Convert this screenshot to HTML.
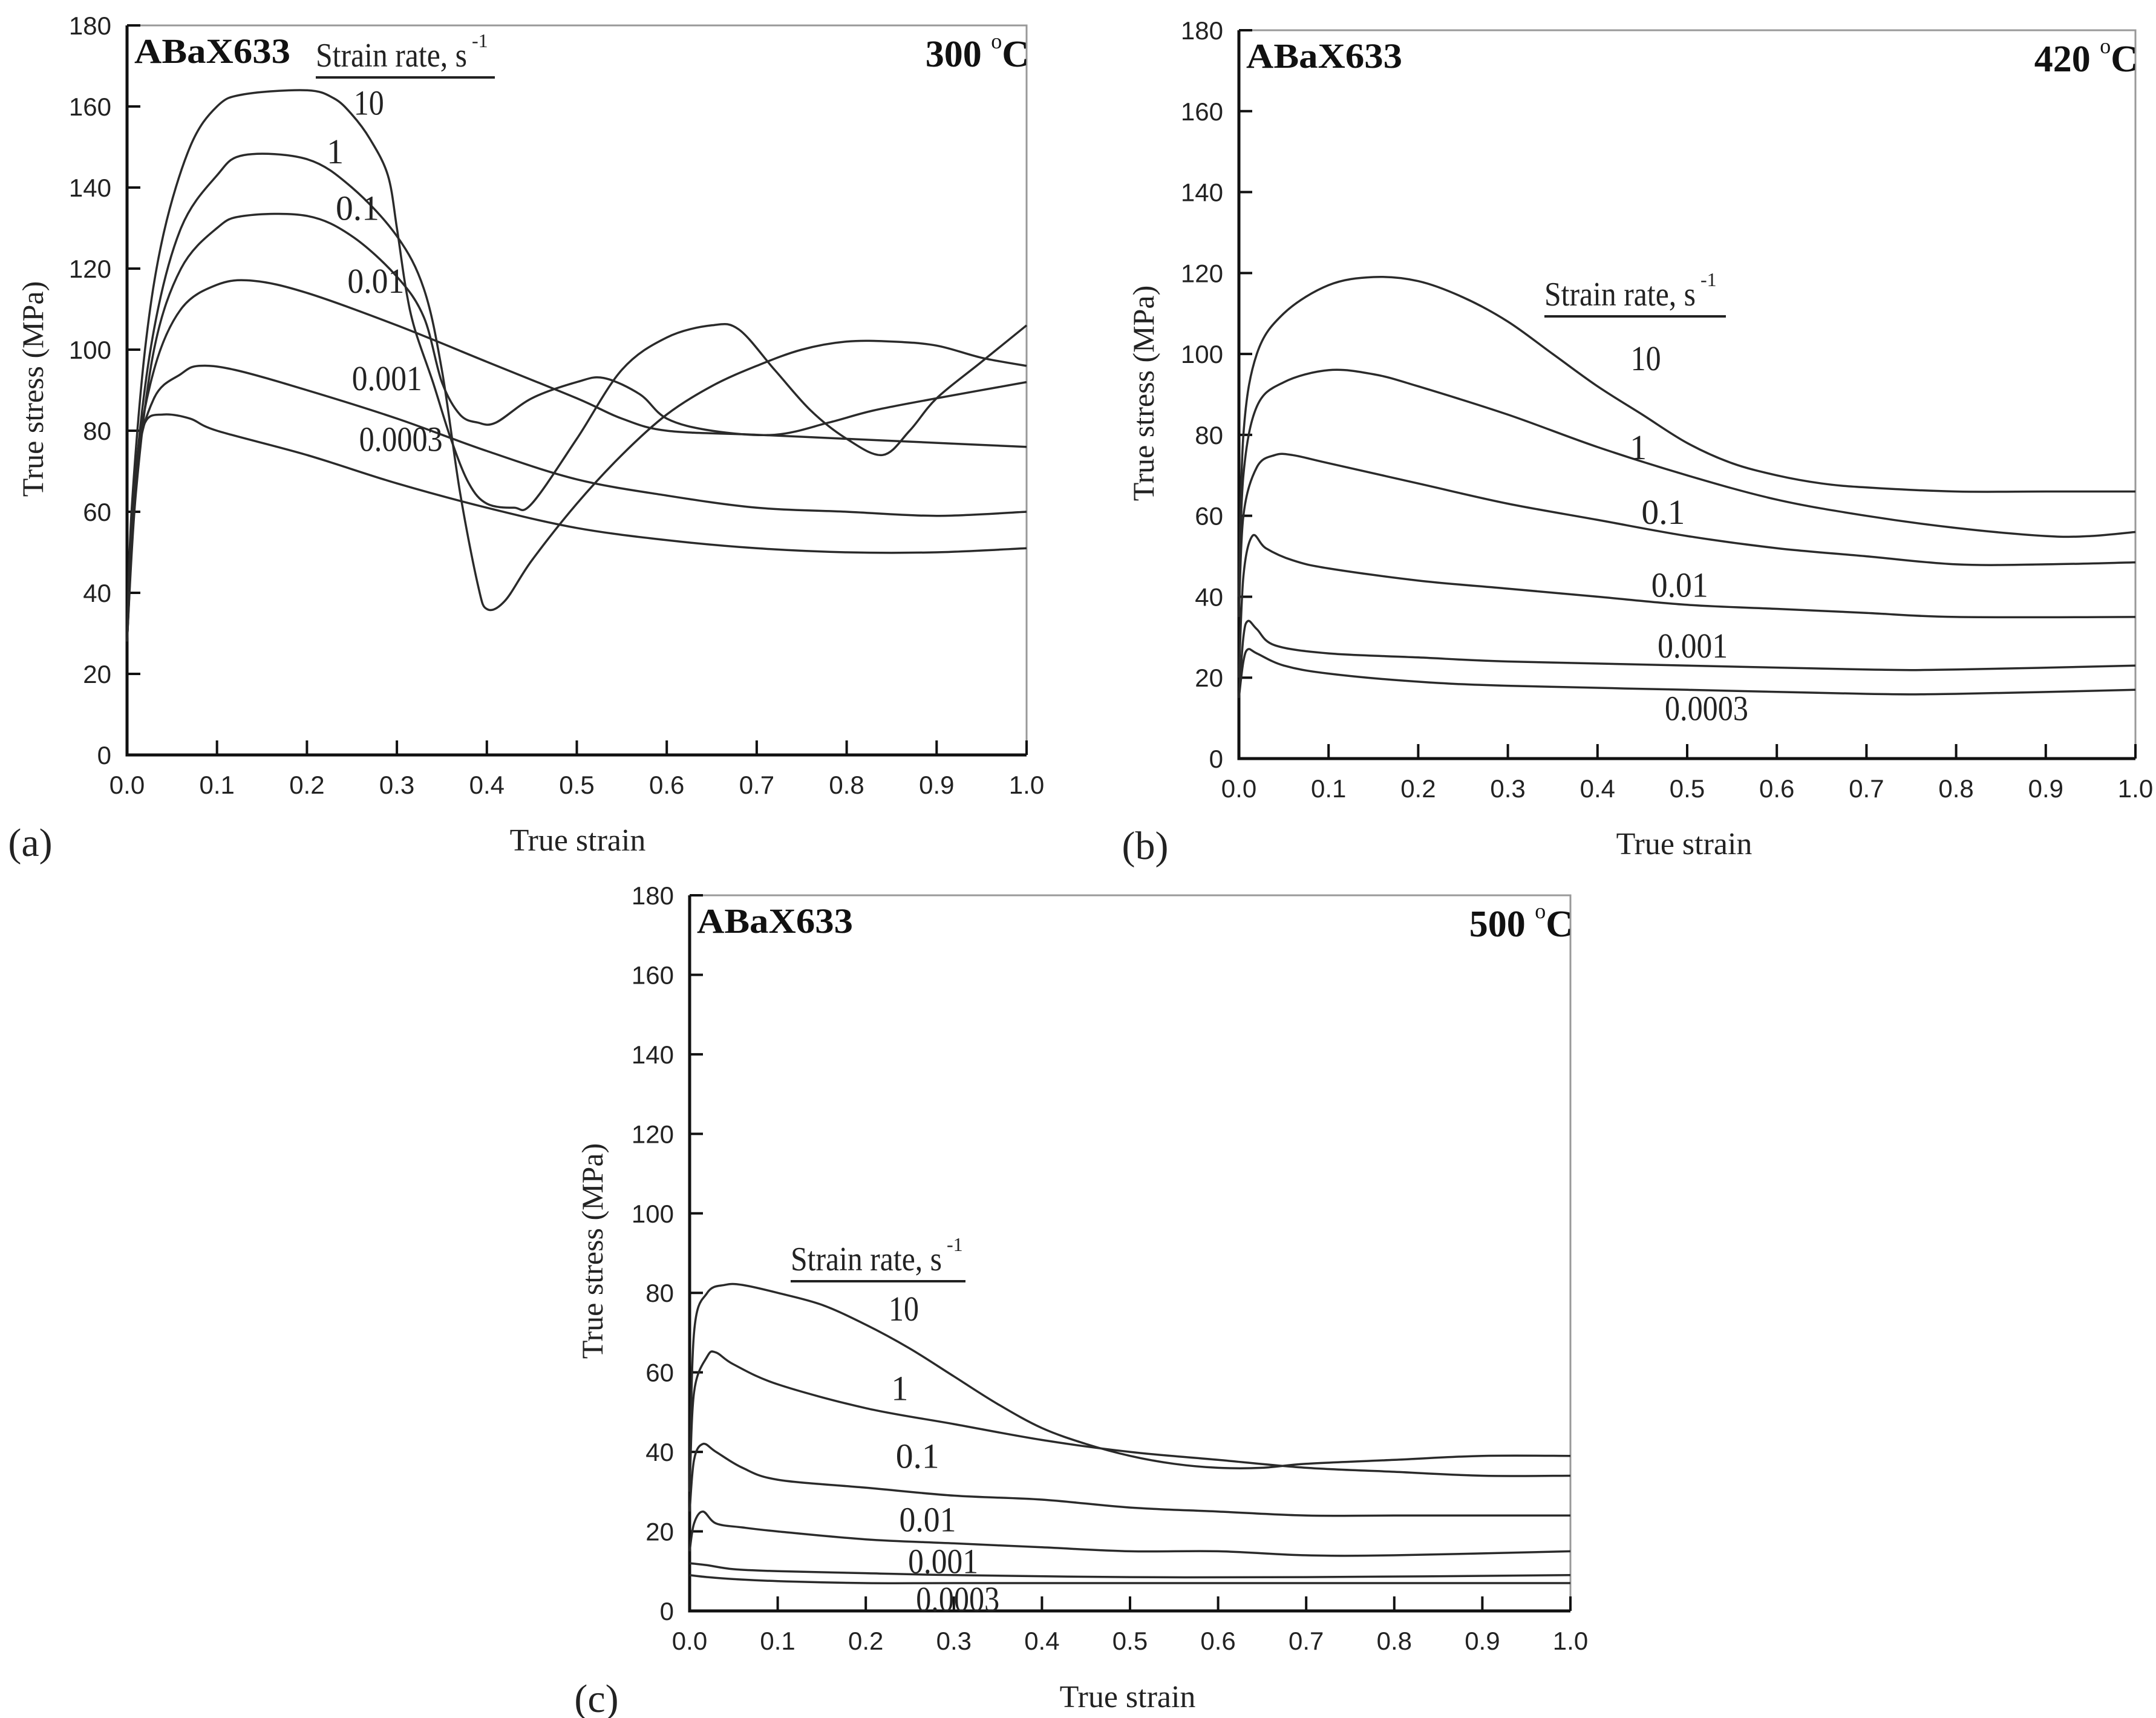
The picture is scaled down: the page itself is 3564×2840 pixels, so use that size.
<!DOCTYPE html>
<html><head><meta charset="utf-8"><style>
html,body{margin:0;padding:0;background:#fff;}
svg{display:block;}
</style></head><body>
<svg id="fig" xmlns="http://www.w3.org/2000/svg" width="3564" height="2840" viewBox="0 0 3564 2840"></svg>
<script>
// ---- Panel (a) 300 C data ----
const seriesA_10 = [[0,28],[0.005,60],[0.02,100],[0.04,128],[0.07,150],[0.1,160],[0.13,163],[0.2,164],[0.23,162],[0.25,158],[0.27,152],[0.29,143],[0.3,130],[0.31,115],[0.32,105],[0.34,92],[0.36,78],[0.38,67],[0.4,62],[0.43,61],[0.45,62],[0.5,78],[0.55,95],[0.6,103],[0.65,106],[0.68,105],[0.72,95],[0.76,85],[0.8,78],[0.84,74],[0.87,80],[0.9,88],[0.95,97],[1.0,106]];
const seriesA_1 = [[0,28],[0.01,70],[0.03,105],[0.06,130],[0.1,143],[0.13,148],[0.2,147],[0.25,140],[0.3,128],[0.33,115],[0.35,95],[0.37,65],[0.39,42],[0.4,36],[0.42,38],[0.45,48],[0.5,62],[0.55,74],[0.6,84],[0.65,91],[0.7,96],[0.75,100],[0.8,102],[0.85,102],[0.9,101],[0.95,98],[1.0,96]];
const seriesA_01 = [[0,28],[0.01,65],[0.03,100],[0.06,120],[0.1,130],[0.13,133],[0.2,133],[0.25,128],[0.3,118],[0.33,108],[0.35,92],[0.37,84],[0.39,82],[0.41,82],[0.45,88],[0.5,92],[0.53,93],[0.57,89],[0.6,83],[0.65,80],[0.72,79],[0.78,82],[0.83,85],[0.9,88],[1.0,92]];
const seriesA_001 = [[0,28],[0.01,70],[0.03,95],[0.06,110],[0.1,116],[0.14,117],[0.2,114],[0.3,106],[0.4,97],[0.5,88],[0.55,83],[0.6,80],[0.7,79],[0.8,78],[0.9,77],[1.0,76]];
const seriesA_0001 = [[0,28],[0.01,70],[0.03,88],[0.06,94],[0.08,96],[0.12,95],[0.2,90],[0.3,83],[0.4,75],[0.5,68],[0.6,64],[0.7,61],[0.8,60],[0.9,59],[1.0,60]];
const seriesA_00003 = [[0,28],[0.01,70],[0.02,82],[0.04,84],[0.07,83],[0.1,80],[0.2,74],[0.3,67],[0.4,61],[0.5,56],[0.6,53],[0.7,51],[0.8,50],[0.9,50],[1.0,51]];
// ---- Panel (b) 420 C data ----
const seriesB_10 = [[0,40],[0.005,80],[0.02,100],[0.05,110],[0.1,117],[0.15,119],[0.2,118],[0.25,114],[0.3,108],[0.35,100],[0.4,92],[0.45,85],[0.5,78],[0.55,73],[0.6,70],[0.65,68],[0.7,67],[0.8,66],[0.9,66],[1.0,66]];
const seriesB_1 = [[0,40],[0.005,70],[0.02,87],[0.05,93],[0.1,96],[0.15,95],[0.2,92],[0.3,85],[0.4,77],[0.5,70],[0.6,64],[0.7,60],[0.8,57],[0.9,55],[0.95,55],[1.0,56]];
const seriesB_01 = [[0,35],[0.005,60],[0.02,72],[0.04,75],[0.06,75],[0.1,73],[0.2,68],[0.3,63],[0.4,59],[0.5,55],[0.6,52],[0.7,50],[0.8,48],[0.9,48],[1.0,48.5]];
const seriesB_001 = [[0,20],[0.005,45],[0.015,55],[0.03,52],[0.06,49],[0.1,47],[0.2,44],[0.3,42],[0.4,40],[0.5,38],[0.6,37],[0.7,36],[0.8,35],[1.0,35]];
const seriesB_0001 = [[0,15],[0.005,30],[0.01,34],[0.02,32],[0.04,28],[0.1,26],[0.2,25],[0.3,24],[0.5,23],[0.7,22],[0.8,22],[1.0,23]];
const seriesB_00003 = [[0,15],[0.005,24],[0.01,27],[0.02,26],[0.05,23],[0.1,21],[0.2,19],[0.3,18],[0.5,17],[0.7,16],[0.8,16],[1.0,17]];
// ---- Panel (c) 500 C data ----
const seriesC_10 = [[0,30],[0.005,70],[0.02,80],[0.04,82],[0.06,82],[0.1,80],[0.15,77],[0.2,72],[0.25,66],[0.3,59],[0.35,52],[0.4,46],[0.45,42],[0.5,39],[0.55,37],[0.6,36],[0.65,36],[0.7,37],[0.8,38],[0.9,39],[1.0,39]];
const seriesC_1 = [[0,30],[0.005,55],[0.02,64],[0.03,65],[0.05,62],[0.1,57],[0.2,51],[0.3,47],[0.4,43],[0.5,40],[0.6,38],[0.7,36],[0.8,35],[0.9,34],[1.0,34]];
const seriesC_01 = [[0,25],[0.005,38],[0.015,42],[0.03,40],[0.06,36],[0.1,33],[0.2,31],[0.3,29],[0.4,28],[0.5,26],[0.6,25],[0.7,24],[0.8,24],[1.0,24]];
const seriesC_001 = [[0,15],[0.005,22],[0.015,25],[0.03,22],[0.06,21],[0.1,20],[0.2,18],[0.3,17],[0.4,16],[0.5,15],[0.6,15],[0.7,14],[0.8,14],[1.0,15]];
const seriesC_0001 = [[0,12],[0.02,11.5],[0.05,10.5],[0.1,10],[0.2,9.5],[0.3,9],[0.5,8.5],[0.7,8.5],[1.0,9]];
const seriesC_00003 = [[0,9],[0.02,8.5],[0.05,8],[0.1,7.5],[0.2,7],[0.3,7],[0.5,7],[0.7,7],[1.0,7]];
// ---- shared labels ----
const rateLabels = ["10","1","0.1","0.01","0.001","0.0003"];
const xTicks = [0,0.1,0.2,0.3,0.4,0.5,0.6,0.7,0.8,0.9,1.0];
const yTicks = [0,20,40,60,80,100,120,140,160,180];
// label anchor points (data coords)
const labelPosA = [[0.252,158],[0.222,146],[0.232,132],[0.245,114],[0.25,90],[0.258,75]];
const labelPosB = [[0.437,96],[0.436,74],[0.449,58],[0.46,40],[0.467,25],[0.475,9.5]];
const labelPosC = [[0.226,73],[0.229,53],[0.234,36],[0.238,20],[0.248,9.5],[0.257,0]];

const NS = "http://www.w3.org/2000/svg";
const svg = document.getElementById('fig');
function mk(tag, attrs, parent){ const e=document.createElementNS(NS,tag); for(const k in attrs) e.setAttribute(k,attrs[k]); (parent||svg).appendChild(e); return e; }
function smoothPath(pts){
  let d='M'+pts[0][0].toFixed(1)+','+pts[0][1].toFixed(1);
  for(let i=0;i<pts.length-1;i++){
    const p0=pts[Math.max(0,i-1)], p1=pts[i], p2=pts[i+1], p3=pts[Math.min(pts.length-1,i+2)];
    const t=1/6;
    const c1=[p1[0]+(p2[0]-p0[0])*t, p1[1]+(p2[1]-p0[1])*t];
    const c2=[p2[0]-(p3[0]-p1[0])*t, p2[1]-(p3[1]-p1[1])*t];
    d+=` C${c1[0].toFixed(1)},${c1[1].toFixed(1)} ${c2[0].toFixed(1)},${c2[1].toFixed(1)} ${p2[0].toFixed(1)},${p2[1].toFixed(1)}`;
  }
  return d;
}

const panels = [
 {id:'a', L:210, R:1697, T:42, B:1248, series:[seriesA_10,seriesA_1,seriesA_01,seriesA_001,seriesA_0001,seriesA_00003], labels:labelPosA, temp:"300", legend:[522,110,818], yTitle:[57,643], xTitle:[955,1392], tag:[50,1395]},
 {id:'b', L:2048, R:3530, T:50, B:1254, series:[seriesB_10,seriesB_1,seriesB_01,seriesB_001,seriesB_0001,seriesB_00003], labels:labelPosB, temp:"420", legend:[2553,505,2853], yTitle:[1893,650], xTitle:[2784,1398], tag:[1893,1400]},
 {id:'c', L:1140, R:2596, T:1480, B:2663, series:[seriesC_10,seriesC_1,seriesC_01,seriesC_001,seriesC_0001,seriesC_00003], labels:labelPosC, temp:"500", legend:[1307,2100,1596], yTitle:[982,2068], xTitle:[1864,2808], tag:[986,2810]}
];

panels.forEach(p=>{
  const g = mk('g',{});
  
  
  const sx = v => p.L + v*(p.R-p.L);
  const sy = v => p.B - v/180*(p.B-p.T);
  const fr = mk('path',{d:`M${p.L},${p.T} H${p.R} V${p.B}`,fill:'none',stroke:'#999','stroke-width':3},g);
  
  
  const ax = mk('path',{d:`M${p.L},${p.T} V${p.B} H${p.R}`,fill:'none',stroke:'#111','stroke-width':5},g);
  
  
  yTicks.forEach(t=>{
    const y=sy(t);
    if(t>0){ const tk=mk('line',{x1:p.L,x2:p.L+22,y1:y,y2:y,stroke:'#111','stroke-width':4},g);
      
       }
    const tl=mk('text',{x:p.L-26,y:y+15,'text-anchor':'end','font-family':'Liberation Sans, sans-serif','font-size':42,fill:'#222'},g);
    tl.textContent=String(t);
    
    
  });
  xTicks.forEach(t=>{
    const x=sx(t);
    if(t>0){ const tk=mk('line',{x1:x,x2:x,y1:p.B,y2:p.B-24,stroke:'#111','stroke-width':4},g);
      
       }
    const tl=mk('text',{x:x,y:p.B+64,'text-anchor':'middle','font-family':'Liberation Sans, sans-serif','font-size':42,fill:'#222'},g);
    tl.textContent=t.toFixed(1);
    
    
  });
  p.series.forEach((s,i)=>{
    const pts = s.map(pt=>[sx(pt[0]), sy(pt[1])]);
    const c = mk('path',{d:smoothPath(pts),fill:'none',stroke:'#2a2a2a','stroke-width':3.5,'stroke-linejoin':'round'},g);
    
    
    const lp = p.labels[i];
    const t = mk('text',{x:sx(lp[0]),y:sy(lp[1]),'font-family':'Liberation Serif, serif','font-size':58,fill:'#222',textLength:rateLabels[i].length*22+6,lengthAdjust:'spacingAndGlyphs'},g);
    t.textContent=rateLabels[i];
    
    
  });
  const lg = mk('text',{x:p.legend[0],y:p.legend[1],'font-family':'Liberation Serif, serif','font-size':56,fill:'#222',textLength:250,lengthAdjust:'spacingAndGlyphs'},g);
  lg.textContent='Strain rate, s';
  
  
  const sup = mk('text',{x:p.legend[0]+258,y:p.legend[1]-32,'font-family':'Liberation Serif, serif','font-size':32,fill:'#222'},g);
  sup.textContent='-1';
  
  
  const ul = mk('line',{x1:p.legend[0],x2:p.legend[2],y1:p.legend[1]+18,y2:p.legend[1]+18,stroke:'#222','stroke-width':4},g);
  
  
  const an = mk('text',{x:p.L+12,y:p.T+62,'font-family':'Liberation Serif, serif','font-weight':'bold','font-size':58,fill:'#111',textLength:258,lengthAdjust:'spacingAndGlyphs'},g);
  an.textContent='ABaX633';
  
  
  const tp = mk('text',{x:p.R+4,y:p.T+68,'text-anchor':'end','font-family':'Liberation Serif, serif','font-weight':'bold','font-size':62,fill:'#111'},g);
  
  
  const t1=document.createElementNS(NS,'tspan'); t1.textContent=p.temp+' '; tp.appendChild(t1);
  const t2=document.createElementNS(NS,'tspan'); t2.setAttribute('dy','-30'); t2.setAttribute('font-size','36'); t2.setAttribute('font-weight','normal'); t2.textContent='o'; tp.appendChild(t2);
  const t3=document.createElementNS(NS,'tspan'); t3.setAttribute('dy','30'); t3.textContent='C'; tp.appendChild(t3);
  const yt = mk('text',{x:0,y:0,transform:`translate(${p.yTitle[0]+14},${p.yTitle[1]}) rotate(-90)`,'text-anchor':'middle','font-family':'Liberation Serif, serif','font-size':50,fill:'#222'},g);
  yt.textContent='True stress (MPa)';
  
  
  const xt = mk('text',{x:p.xTitle[0],y:p.xTitle[1]+14,'text-anchor':'middle','font-family':'Liberation Serif, serif','font-size':52,fill:'#222'},g);
  xt.textContent='True strain';
  
  
  const tg = mk('text',{x:p.tag[0],y:p.tag[1]+20,'text-anchor':'middle','font-family':'Liberation Serif, serif','font-size':66,fill:'#222'},g);
  tg.textContent='('+p.id+')';
  
  
});
</script>
</body></html>
